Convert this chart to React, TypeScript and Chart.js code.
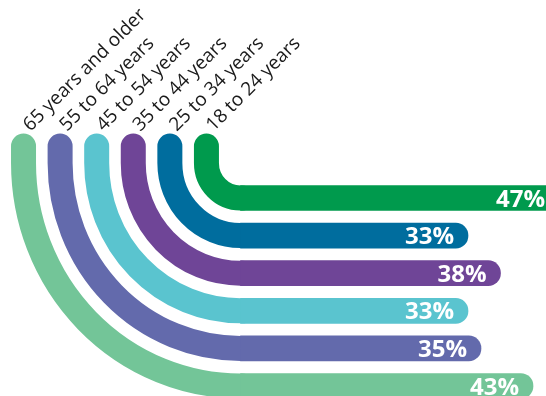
import React, { useEffect, useRef } from "react";
import { Chart, registerables } from "chart.js";

Chart.register(...registerables);

const categories = [
  "18 to 24 years",
  "25 to 34 years",
  "35 to 44 years",
  "45 to 54 years",
  "55 to 64 years",
  "65 years and older",
];
const values = [47, 33, 38, 33, 35, 43];
const colors = ["#009A4D", "#006D9E", "#6F4597", "#5AC4CF", "#636AAC", "#73C598"];

const X_MIN = -39;
const X_MAX = 45;
const BAR_BASE = -2;

const bendPlugin = {
  id: "bend",
  beforeDatasetsDraw(chart: any) {
    const ctx = chart.ctx;
    const meta = chart.getDatasetMeta(0);
    const arcCenterY = 163;
    const capY = 146;
    ctx.save();
    meta.data.forEach((el: any, i: number) => {
      const y = el.y;
      const base = el.base;
      const ry = y - arcCenterY;
      const rx = ry * 0.973;
      ctx.beginPath();
      ctx.moveTo(base + 2, y);
      ctx.lineTo(base, y);
      ctx.ellipse(base, arcCenterY, rx, ry, 0, Math.PI / 2, Math.PI, false);
      ctx.lineTo(base - rx, capY);
      ctx.strokeStyle = colors[i];
      ctx.lineWidth = 25;
      ctx.lineCap = "round";
      ctx.lineJoin = "round";
      ctx.stroke();
    });
    ctx.restore();
  },
  afterDatasetsDraw(chart: any) {
    const ctx = chart.ctx;
    const meta = chart.getDatasetMeta(0);
    const arcCenterY = 163;
    ctx.save();
    meta.data.forEach((el: any, i: number) => {
      const y = el.y;
      const base = el.base;
      const ry = y - arcCenterY;
      const rx = ry * 0.973;
      // value label
      ctx.fillStyle = "#ffffff";
      ctx.font = "bold 24px 'Open Sans'";
      ctx.textAlign = "right";
      ctx.textBaseline = "alphabetic";
      ctx.fillText(values[i] + "%", el.x - 14, y + 8.6);
      // category label, rotated
      ctx.save();
      ctx.translate(base - rx + 7, 132);
      ctx.rotate(-Math.PI / 4);
      ctx.fillStyle = "#1a1a1a";
      ctx.font = "19px 'Open Sans'";
      ctx.textAlign = "left";
      ctx.textBaseline = "alphabetic";
      ctx.fillText(chart.data.labels[i], 0, 0);
      ctx.restore();
    });
    ctx.restore();
  },
};

export default function App() {
  const ref = useRef<HTMLCanvasElement | null>(null);
  useEffect(() => {
    if (!ref.current) return;
    const chart = new Chart(ref.current, {
      type: "bar",
      data: {
        labels: categories,
        datasets: [
          {
            data: values,
            backgroundColor: colors,
            barThickness: 25,
            borderRadius: 12.5,
            borderSkipped: "start",
            borderWidth: 0,
            base: BAR_BASE,
            clip: false,
          } as any,
        ],
      },
      options: {
        indexAxis: "y",
        responsive: false,
        animation: false,
        layout: { padding: { top: 198, bottom: 10, left: 0, right: 0 } },
        plugins: { legend: { display: false }, tooltip: { enabled: false } },
        scales: {
          x: { type: "linear", display: false, min: X_MIN, max: X_MAX },
          y: { type: "category", display: false, offset: false, grid: { offset: false } },
        },
      },
      plugins: [bendPlugin],
    });
    return () => chart.destroy();
  }, []);
  return (
    <div style={{ position: "fixed", left: 0, top: 0, width: 546, height: 396, background: "#fff" }}>
      <canvas ref={ref} width={546} height={396} style={{ display: "block" }} />
    </div>
  );
}
